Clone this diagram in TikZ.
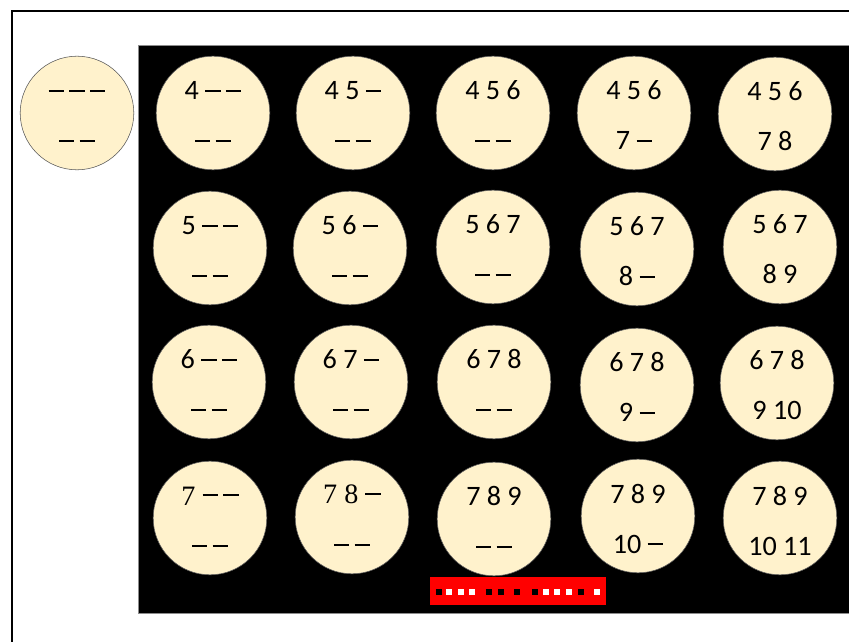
\documentclass[tikz,border=0pt]{standalone}
\usepackage{fontspec}
\setmainfont{Carlito}
\newfontfamily\timesnum{Liberation Serif}
\usetikzlibrary{positioning}
\definecolor{ballfill}{HTML}{FFF2CC}
\definecolor{ballline}{HTML}{595959}
\definecolor{barred}{HTML}{FF0000}

\tikzset{
  ball/.style={circle,fill=ballfill,draw=ballline,line width=0.4pt,inner sep=0pt,minimum size=2.84cm},
  numtext/.style={anchor=base,inner sep=0pt,font=\fontsize{20}{24}\selectfont},
}

% a blank place, drawn as a dash
\newcommand{\blank}{\rule[0.27em]{0.55em}{0.075em}}
\newcommand{\sblank}{\rule[0.32em]{0.55em}{0.075em}}
\newcommand{\bgap}{\hspace{0.18em}}

% one numbered ball: name, x, y, top row, bottom row
\newcommand{\numball}[5]{%
  \node[ball] (#1) at (#2,#3) {};
  \node[numtext] (#1top) at (#2,#3-13) {#4};
  \node[numtext] (#1bot) at (#2,#3+37) {#5};
}

\begin{document}
\begin{tikzpicture}[x=0.025cm,y=-0.025cm]
        \useasboundingbox (0,0) rectangle (849,642);
        \draw[line width=1.1pt] (12,11) rectangle (870,660);
        \fill[black] (138,45) rectangle (870,613);
        \draw[black!45,line width=0.5pt] (870,45) -- (138,45) -- (138,613) -- (870,613);

        % empty ball on the left
        \numball{start}{77}{113}{\blank\bgap\blank\bgap\blank}{\blank\bgap\blank}

        % row 1
        \numball{b11}{213}{113}{4 \blank\bgap\blank}{\blank\bgap\blank}
        \numball{b12}{353}{113}{4 5 \blank}{\blank\bgap\blank}
        \numball{b13}{493}{113}{4 5 6}{\blank\bgap\blank}
        \numball{b14}{634}{113}{4 5 6}{7 \blank}
        \numball{b15}{775}{114}{4 5 6}{7 8}
        % row 2
        \numball{b21}{210}{248}{5 \blank\bgap\blank}{\blank\bgap\blank}
        \numball{b22}{350}{248}{5 6 \blank}{\blank\bgap\blank}
        \numball{b23}{493}{247}{5 6 7}{\blank\bgap\blank}
        \numball{b24}{637}{249}{5 6 7}{8 \blank}
        \numball{b25}{780}{247}{5 6 7}{8 9}
        % row 3
        \numball{b31}{209}{382}{6 \blank\bgap\blank}{\blank\bgap\blank}
        \numball{b32}{351}{382}{6 7 \blank}{\blank\bgap\blank}
        \numball{b33}{494}{382}{6 7 8}{\blank\bgap\blank}
        \numball{b34}{637}{385}{6 7 8}{9 \blank}
        \numball{b35}{777}{383}{6 7 8}{9 10}
        % row 4
        \numball{b41}{210}{518}{\timesnum 7 \sblank\bgap\sblank}{\blank\bgap\blank}
        \numball{b42}{352}{517}{\timesnum 7 8 \sblank}{\blank\bgap\blank}
        \numball{b43}{494}{519}{7 8 9}{\blank\bgap\blank}
        \numball{b44}{638}{516}{7 8 9}{10 \blank}
        \numball{b45}{780}{518}{7 8 9}{10 11}

        % red strip
        \fill[barred] (430,577) rectangle (606,605);
        \foreach \x in {439,489,501,517,535,581}
          \fill[black] (\x-3,589) rectangle ++(6,6);
        \foreach \x in {449,461,472,546,557,569,597}
          \fill[white] (\x-3,589) rectangle ++(6,6);
\end{tikzpicture}
\end{document}
